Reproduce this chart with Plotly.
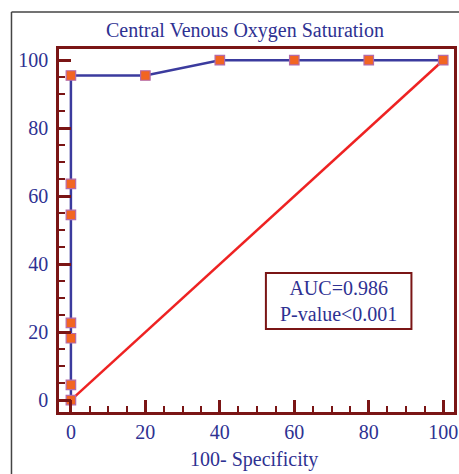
import plotly.graph_objects as go

# ROC curve data (100-Specificity, Sensitivity)
fpr = [0, 0, 0, 0, 0, 0, 0, 20, 40, 60, 80, 100]
tpr = [0, 4.5, 18.2, 22.7, 54.5, 63.6, 95.5, 95.5, 100, 100, 100, 100]
diag_x = [0, 100]
diag_y = [0, 100]
tick_vals = [0, 20, 40, 60, 80, 100]
title_text = "Central Venous Oxygen Saturation"
x_title = "100- Specificity"
annot_text = "AUC=0.986<br>P-value<0.001"

W, H = 459, 474
L, R, T, B = 59, 1, 49, 62
pw, ph = W - L - R, H - T - B

def px(x):
    return (x - L) / pw

def py(y):
    return (H - B - y) / ph

AX = "#7a1515"
TXT = "#2e3192"
FONT = "Liberation Serif, Times New Roman, serif"

fig = go.Figure()
fig.add_trace(go.Scatter(x=diag_x, y=diag_y, mode="lines",
                         line=dict(color="#ee2222", width=2.5),
                         showlegend=False, hoverinfo="skip"))
fig.add_trace(go.Scatter(x=fpr, y=tpr, mode="lines+markers",
                         line=dict(color="#3b3b9e", width=2.5),
                         marker=dict(symbol="square", size=9.5, color="#f26522",
                                     line=dict(color="#b46aa8", width=1.2)),
                         showlegend=False, cliponaxis=False))

axis_common = dict(
    showgrid=False, zeroline=False, showline=True, linecolor=AX, linewidth=2.5,
    mirror=True, ticks="inside", ticklen=12, tickwidth=2.5, tickcolor=AX,
    tickvals=tick_vals, tickfont=dict(family=FONT, size=20, color=TXT),
    ticklabeloverflow="allow",
    minor=dict(ticks="inside", ticklen=6, tickwidth=2, tickcolor=AX, dtick=5, showgrid=False),
)

fig.update_layout(
    width=W, height=H,
    margin=dict(l=L, r=R, t=T, b=B),
    paper_bgcolor="white", plot_bgcolor="white",
    xaxis=dict(range=[-3.2, 102.9], ticklabelstandoff=0, **axis_common),
    yaxis=dict(range=[-3.5, 103.3], ticklabelstandoff=4, **axis_common),
    font=dict(family=FONT, color=TXT),
    hovermode=False,
    shapes=[
        dict(type="line", xref="paper", yref="paper",
             x0=px(11), x1=px(11), y0=py(12), y1=py(H + 10),
             line=dict(color="#444444", width=1.5)),
        dict(type="line", xref="paper", yref="paper",
             x0=px(11), x1=px(W + 10), y0=py(12), y1=py(12),
             line=dict(color="#444444", width=1.5)),
        dict(type="rect", xref="paper", yref="paper",
             x0=px(268), x1=px(415), y0=py(329), y1=py(273),
             line=dict(color=AX, width=2), fillcolor="white", layer="above"),
    ],
    annotations=[
        dict(text=title_text, xref="paper", yref="paper",
             x=px(247), y=py(31), xanchor="center", yanchor="middle",
             showarrow=False, font=dict(family=FONT, size=20, color=TXT)),
        dict(text=x_title, xref="paper", yref="paper",
             x=px(256), y=py(459), xanchor="center", yanchor="middle",
             showarrow=False, font=dict(family=FONT, size=20, color=TXT)),
        dict(text=annot_text, xref="paper", yref="paper",
             x=px(341.5), y=py(301), xanchor="center", yanchor="middle",
             showarrow=False, align="center",
             font=dict(family=FONT, size=20, color=TXT)),
    ],
)

fig.write_html("out.html",
               config={"displayModeBar": False},
               post_script="document.body.style.margin='0';document.body.style.overflow='hidden';")
